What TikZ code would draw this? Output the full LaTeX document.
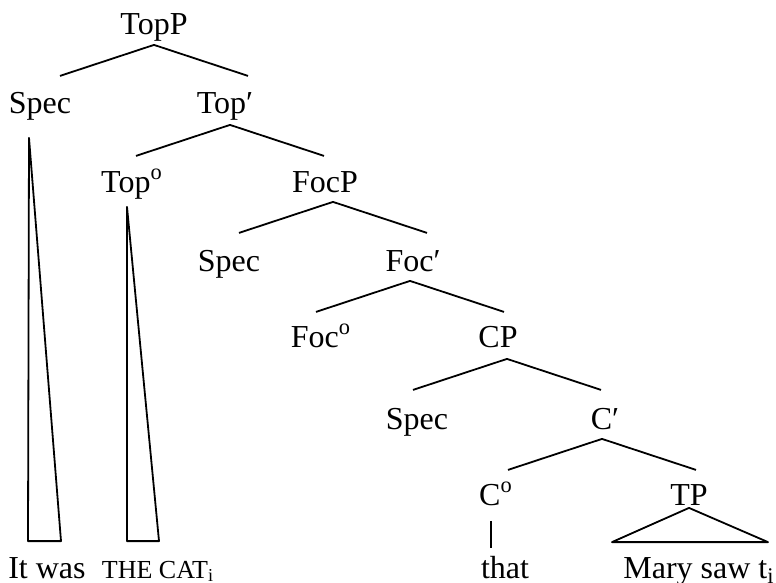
\documentclass[tikz,border=0pt]{standalone}
\usepackage{fontspec}
\setmainfont{Liberation Serif}
\tikzset{
  lbl/.style={anchor=base,inner sep=0pt,text height=18.5pt,text depth=4.5pt,
    font=\fontsize{16}{19}\selectfont},
  smallcap/.style={lbl,font=\fontsize{13}{15}\selectfont},
}
\begin{document}
\begin{tikzpicture}[x=0.5pt,y=-0.5pt,line width=0.9pt,line join=round]
  \useasboundingbox (0,0) rectangle (776,583);
  % labels
  \node[lbl] (topp) at (154,35) {TopP};
  \node[lbl] (spec1) at (40,113) {Spec};
  \node[lbl] (topbar) at (225,113) {Top′};
  \node[lbl] (top0) at (132,192) {Top\textsuperscript{o}};
  \node[lbl] (focp) at (325,192) {FocP};
  \node[lbl] (spec2) at (229,271) {Spec};
  \node[lbl] (focbar) at (413,271) {Foc′};
  \node[lbl] (foc0) at (321,347) {Foc\textsuperscript{o}};
  \node[lbl] (cp) at (498,347) {CP};
  \node[lbl] (spec3) at (417,429) {Spec};
  \node[lbl] (cbar) at (605,429) {C′};
  \node[lbl] (c0) at (496,505) {C\textsuperscript{o}};
  \node[lbl] (tp) at (689,505) {TP};
  % words
  \node[lbl] (itwas) at (47,578) {It was};
  \node[smallcap] (thecat) at (158,578) {THE CAT\textsubscript{i}};
  \node[lbl] (that) at (505,578) {that};
  \node[lbl] (marysaw) at (699,578) {Mary saw t\textsubscript{i}};
  % branching
  \foreach \n/\dx/\dy in {topp/0/0,topbar/5/2,focp/8/0,focbar/-3/0,cp/9/2,cbar/-3/0}{
    \coordinate (\n-a) at ([shift={(\dx,\dy)}]\n.south);
    \coordinate (\n-l) at ([shift={(-94,31)}]\n-a);
    \coordinate (\n-r) at ([shift={(94,31)}]\n-a);
    \draw[] (\n-l)--(\n-a)--(\n-r);
  }
  % roofs
  \draw[] ([shift={(-11,15)}]spec1.south)--([shift={(-19,1)}]itwas.north)--([shift={(14,1)}]itwas.north)--cycle;
  \draw[] ([shift={(-5,5)}]top0.south)--([shift={(-31,1)}]thecat.north)--([shift={(1,1)}]thecat.north)--cycle;
  \draw[] ([shift={(0,-7)}]tp.south)--([shift={(-87,2)}]marysaw.north)--([shift={(69,2)}]marysaw.north)--cycle;
  \draw[] ([shift={(-5,6)}]c0.south)--([shift={(-14,8)}]that.north);
\end{tikzpicture}
\end{document}
